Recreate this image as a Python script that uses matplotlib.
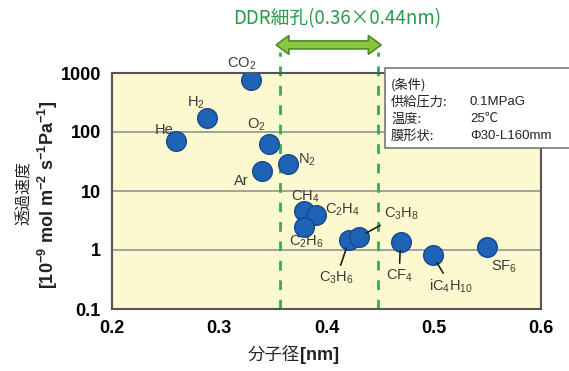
import matplotlib.pyplot as plt
from matplotlib.patches import Polygon, Rectangle
import matplotlib.transforms as mtransforms

plt.rcParams['font.family'] = ['Noto Sans CJK JP', 'DejaVu Sans']
plt.rcParams['mathtext.fontset'] = 'custom'
plt.rcParams['mathtext.rm'] = 'Liberation Sans'
plt.rcParams['mathtext.bf'] = 'Liberation Sans:bold'

# data: kinetic diameter [nm] vs permeance [1e-9 mol m-2 s-1 Pa-1]
gases = ['He', 'H$_2$', 'CO$_2$', 'O$_2$', 'N$_2$', 'Ar', 'CH$_4$', 'C$_2$H$_4$',
         'C$_2$H$_6$', 'C$_3$H$_6$', 'C$_3$H$_8$', 'CF$_4$', 'iC$_4$H$_{10}$', 'SF$_6$']
diameter = [0.260, 0.289, 0.330, 0.346, 0.364, 0.340, 0.379, 0.390,
            0.379, 0.421, 0.430, 0.469, 0.499, 0.550]
permeance = [71, 174, 760, 63, 29, 22, 4.5, 3.9, 2.5, 1.47, 1.65, 1.35, 0.81, 1.12]
# label offsets (points) and whether a leader line is drawn
offsets = [(-9, 8), (-8, 11), (-7, 12), (-9, 14), (14, 3), (-15, -7), (1, 11), (19, 4),
           (2, -11), (-9, -27), (31, 17), (-1, -24), (13, -22), (12, -14)]
leader = [False] * 9 + [True, True, True, True, False]

pore = [0.357, 0.448]
xticks = [0.2, 0.3, 0.4, 0.5, 0.6]
yticks = [0.1, 1, 10, 100, 1000]
ytick_labels = ['0.1', '1', '10', '100', '1000']
conditions = [('(条件)', ''), ('供給圧力:', '0.1MPaG'), ('温度:', '25℃'), ('膜形状:', 'Φ30-L160mm')]

W, H = 569, 371
fig = plt.figure(figsize=(W / 100, H / 100), dpi=100)
ax = fig.add_axes([112 / W, 1 - 309 / H, 429 / W, 236 / H])
ax.set_facecolor('#fcf8cf')
ax.set_yscale('log')
ax.set_xlim(0.2, 0.6)
ax.set_ylim(0.1, 1000)

for g in [1, 10, 100]:
    ax.axhline(g, color='#9a9a9a', lw=1.3, zorder=1)

for p in pore:
    ax.axvline(p, ymin=0, ymax=1.09, color='#2fb04c', lw=2, ls=(0, (3.5, 3.5)),
               clip_on=False, zorder=2)

ax.scatter(diameter, permeance, s=200, color='#1e63b5', edgecolor='#16498c',
           lw=1, zorder=4)

for name, x, y, off, ld in zip(gases, diameter, permeance, offsets, leader):
    props = None
    if ld:
        props = dict(arrowstyle='-', color='#222222', lw=1.2, shrinkA=1, shrinkB=6)
    ax.annotate(name, (x, y), xytext=off, textcoords='offset points',
                ha='center', va='center', fontsize=10.5, color='#3a3a3a',
                family='Liberation Sans', arrowprops=props, zorder=5)

ax.set_xticks(xticks)
ax.set_xticklabels([str(t) for t in xticks], fontsize=13, fontweight='bold',
                   family='Liberation Sans')
ax.set_yticks(yticks)
ax.set_yticklabels(ytick_labels, fontsize=13, fontweight='bold', family='Liberation Sans')
ax.minorticks_off()
ax.tick_params(length=0, pad=8)
for s in ax.spines.values():
    s.set_color('#555555')
    s.set_linewidth(1.5)

# double arrow above the pore range
tr = mtransforms.blended_transform_factory(ax.transData, ax.transAxes)
x0, x1 = pore[0] - 0.004, pore[1] + 0.003
hl, yc, hw, sw = 0.012, 1.119, 0.040, 0.017
arrow = Polygon([(x0, yc), (x0 + hl, yc + hw), (x0 + hl, yc + sw), (x1 - hl, yc + sw),
                 (x1 - hl, yc + hw), (x1, yc), (x1 - hl, yc - hw), (x1 - hl, yc - sw),
                 (x0 + hl, yc - sw), (x0 + hl, yc - hw)], closed=True,
                transform=tr, clip_on=False, fc='#8cc63e', ec='#4e8a2c', lw=1.2, zorder=6)
ax.add_patch(arrow)
fig.text(337 / W, 1 - 19 / H, 'DDR細孔(0.36×0.44nm)', color='#2a9a4a', fontsize=13.5,
         ha='center', va='center')

# conditions box
fig.patches.append(Rectangle((385 / W, 1 - 148 / H), 200 / W, 80 / H,
                             transform=fig.transFigure, fc='white', ec='#777777',
                             lw=1.2, zorder=10))
for i, (k, v) in enumerate(conditions):
    yy = 1 - (85 + i * 17) / H
    fig.text(391 / W, yy, k, fontsize=9.5, color='#222222', va='center', zorder=11)
    if v:
        fig.text(470 / W, yy, v, fontsize=9.5, color='#222222', va='center', zorder=11,
                 family=['Liberation Sans', 'Noto Sans CJK JP'])

# axis labels
fig.text(24 / W, 1 - 193 / H, '透過速度', rotation=90, fontsize=11.5, ha='center',
         va='center', color='#222222')
fig.text(48 / W, 1 - 195 / H,
         r'[10$^{\mathbf{-9}}$ mol m$^{\mathbf{-2}}$ s$^{\mathbf{-1}}$Pa$^{\mathbf{-1}}$]',
         rotation=90, fontsize=13, fontweight='bold', ha='center', va='center',
         family='Liberation Sans', color='#222222')
fig.text(300 / W, 1 - 356 / H, '分子径', fontsize=12.5, ha='right', va='center',
         color='#222222')
fig.text(300 / W, 1 - 355 / H, '[nm]', fontsize=13, fontweight='bold', ha='left',
         va='center', family='Liberation Sans', color='#222222')

fig.savefig('out.png', dpi=100)
